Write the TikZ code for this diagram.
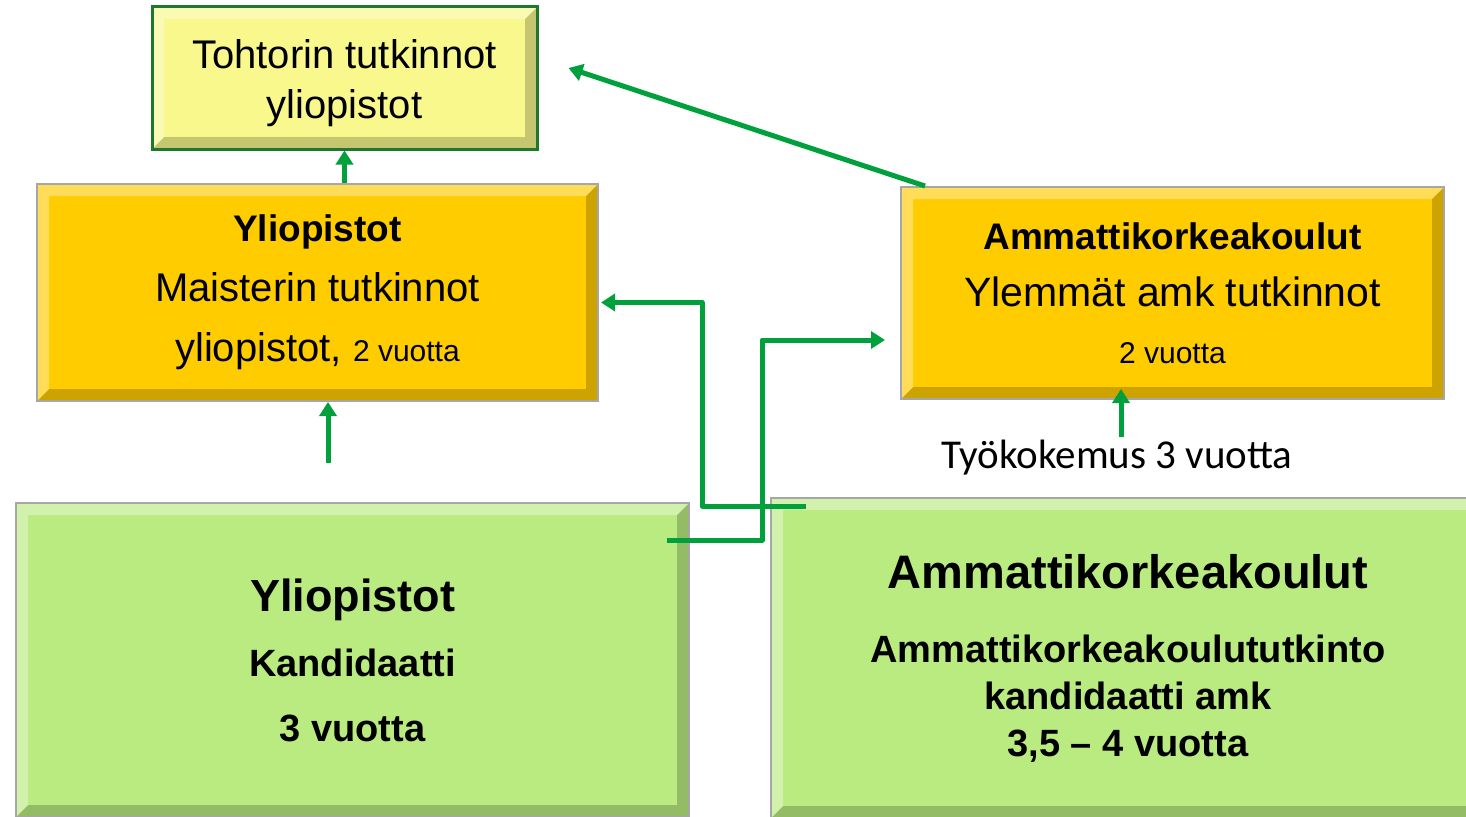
\documentclass[tikz,border=0pt]{standalone}
\usepackage{fontspec}
\setmainfont{Liberation Sans}
\newfontfamily\calfont{Carlito}
\usetikzlibrary{arrows.meta}

\definecolor{gold}{RGB}{255,204,0}
\definecolor{paleyellow}{RGB}{248,248,140}
\definecolor{palegreen}{RGB}{185,235,128}
\definecolor{arrowgreen}{RGB}{0,160,60}
\definecolor{darkframe}{RGB}{30,120,46}

\tikzset{
  bevel/.style={path picture={
      \fill[black,opacity=.2] (path picture bounding box.south west) -- (path picture bounding box.south east)
        -- (path picture bounding box.north east) -- ([shift={(-12pt,-12pt)}]path picture bounding box.north east)
        -- ([shift={(-12pt,12pt)}]path picture bounding box.south east) -- ([shift={(12pt,12pt)}]path picture bounding box.south west) -- cycle;
      \fill[white,opacity=.35] (path picture bounding box.south west) -- (path picture bounding box.north west)
        -- (path picture bounding box.north east) -- ([shift={(-12pt,-12pt)}]path picture bounding box.north east)
        -- ([shift={(12pt,-12pt)}]path picture bounding box.north west) -- ([shift={(12pt,12pt)}]path picture bounding box.south west) -- cycle;
    }},
  degree/.style={draw=gray!70, line width=2pt, bevel, align=center, inner sep=0pt},
  link/.style={draw=arrowgreen, line width=5pt, line join=round,
    -{Triangle[length=14pt,width=17pt]}}
}

\begin{document}
\begin{tikzpicture}[x=1pt,y=-1pt]
    \useasboundingbox (0,0) rectangle (1466,816);
    % boxes
    \node [degree, fill=paleyellow, draw=darkframe, line width=3pt,
        minimum width=385pt, minimum height=142pt,
        font=\fontsize{40}{50}\selectfont] (tohtori) at (344.5,78)
        {\rule{0pt}{40pt}Tohtorin tutkinnot\\yliopistot};
    \node [degree, fill=gold, minimum width=561pt, minimum height=217pt,
        font=\fontsize{40}{60}\selectfont] (maisteri) at (317.5,292.5)
        {{\bfseries\fontsize{37}{60}\selectfont Yliopistot}\\
         Maisterin tutkinnot\\
         yliopistot, {\fontsize{30}{60}\selectfont 2 vuotta}};
    \node [degree, fill=gold, minimum width=543pt, minimum height=212pt,
        font=\fontsize{41}{57}\selectfont] (ylemmat) at (1172.5,293)
        {{\bfseries\fontsize{37}{57}\selectfont Ammattikorkeakoulut}\\
         Ylemmät amk tutkinnot\\
         {\fontsize{30}{57}\selectfont 2 vuotta}};
    \node [degree, fill=palegreen, minimum width=673pt, minimum height=314pt,
        font=\bfseries\fontsize{38}{65}\selectfont] (kandi) at (352.5,660)
        {{\fontsize{45}{65}\selectfont Yliopistot}\\
         Kandidaatti\\
         3 vuotta};
    \node [degree, fill=palegreen, minimum width=714pt, minimum height=320pt,
        font=\bfseries\fontsize{38}{47}\selectfont] (amk) at (1128,658)
        {{\fontsize{47}{47}\selectfont Ammattikorkeakoulut}\\[27pt]
         Ammattikorkeakoulututkinto\\
         kandidaatti amk\\
         3,5 -- 4 vuotta};
    \node [font=\calfont\fontsize{41}{41}\selectfont] (tyo) at (1117,458)
        {Työkokemus 3 vuotta};
    % connectors
    \coordinate (kandiout) at (328,463);
    \coordinate (amkturn) at (806,506);
    \coordinate (kanditurn) at (667,540);
    \draw [link] (tohtori.south |- maisteri.north) -- (tohtori.south);
    \draw [link] ([xshift=25pt]ylemmat.north west) -- ([shift={(30pt,10pt)}]tohtori.east);
    \draw [link] (kandiout) -- (kandiout |- maisteri.south);
    \draw [link] (amkturn) -- ++(-104,0) |- ([shift={(2pt,-10pt)}]maisteri.east);
    \draw [link] (kanditurn) -- ++(95,0) |- ([shift={(-15pt,-47pt)}]ylemmat.west);
    \draw [link] ([xshift=4pt]tyo.north) -- ([shift={(-51.5pt,11pt)}]ylemmat.south);
\end{tikzpicture}
\end{document}
